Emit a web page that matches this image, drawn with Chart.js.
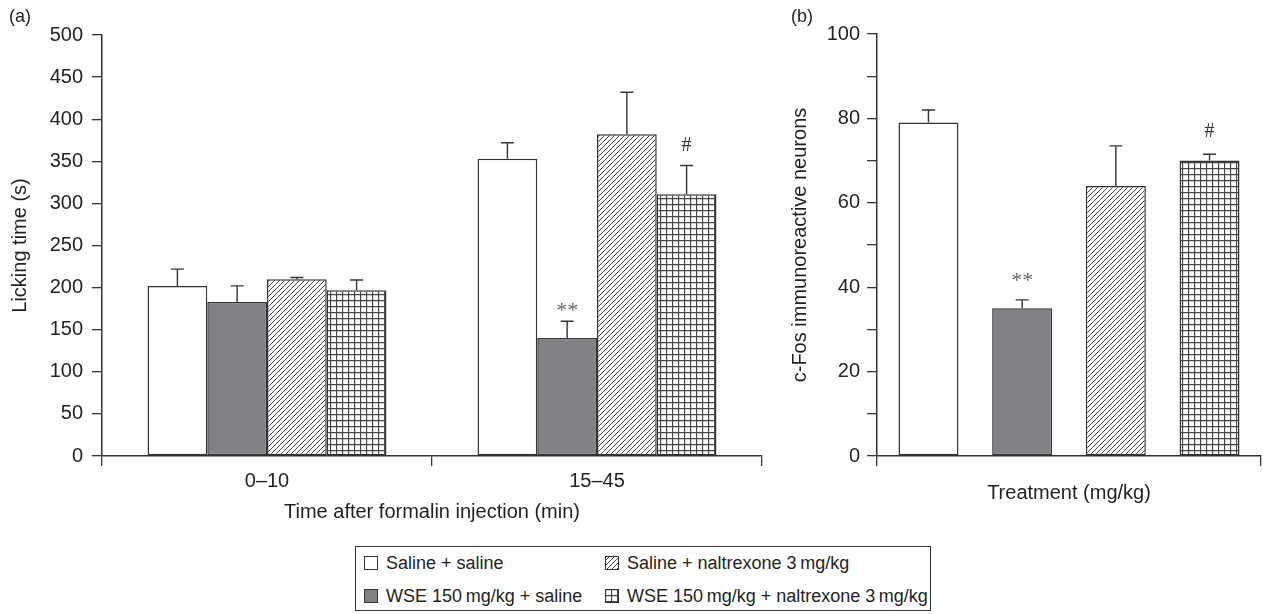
<!DOCTYPE html>
<html>
<head>
<meta charset="utf-8">
<script src="https://cdn.jsdelivr.net/npm/chart.js@4.4.0/dist/chart.umd.min.js"></script>
<style>
  body { margin: 0; background: #fff; }
  #wrap { position: relative; width: 1263px; height: 614px; overflow: hidden; font-family: "Liberation Sans", Arial, sans-serif; color: #231f20; }
  #chartA { position: absolute; left: 0; top: 0; }
  #chartB { position: absolute; left: 780px; top: 0; }
  .panel { position: absolute; top: 6px; font-size: 18px; }
  #legend { position: absolute; left: 355px; top: 546px; width: 576px; height: 65px; border: 1.3px solid #333; box-sizing: border-box; }
  .item { position: absolute; height: 22px; font-size: 18px; line-height: 22px; white-space: nowrap; }
  .item canvas { position: absolute; left: 0; top: 4px; }
  .item span { position: absolute; left: 22px; top: 0; }
</style>
</head>
<body>
<div id="wrap">
  <canvas id="chartA" width="790" height="530"></canvas>
  <canvas id="chartB" width="483" height="530"></canvas>
  <div class="panel" style="left:9px">(a)</div>
  <div class="panel" style="left:791px">(b)</div>
  <div id="legend"></div>
</div>
<script>
// series names
const seriesNames = ['Saline + saline', 'WSE 150\u2009mg/kg + saline', 'Saline + naltrexone 3\u2009mg/kg', 'WSE 150\u2009mg/kg + naltrexone 3\u2009mg/kg'];

// (a) licking time, two time windows
const timeGroups = ['0\u201310', '15\u201345'];
const salineSaline = [202, 353];
const wseSaline = [183, 140];
const salineNal = [210, 382];
const wseNal = [197, 311];
const salineSalineErr = [20, 19];
const wseSalineErr = [19, 20];
const salineNalErr = [2, 50];
const wseNalErr = [12, 34];
const lickingTicks = [0, 50, 100, 150, 200, 250, 300, 350, 400, 450, 500];

// (b) c-Fos neurons, one value per treatment
const cfos = [79, 35, 64, 70];
const cfosErr = [3, 2, 9.5, 1.5];
const cfosTicks = [0, 20, 40, 60, 80, 100];

const ink = '#231f20';
const edge = '#333333';
const darkFill = '#808285';
const font20 = { family: '"Liberation Sans", Arial, sans-serif', size: 20 };

function makePattern(kind) {
  const c = document.createElement('canvas');
  const s = kind === 'hatch' ? 5 : 6;
  c.width = s; c.height = s;
  const g = c.getContext('2d');
  g.fillStyle = '#fff';
  g.fillRect(0, 0, s, s);
  g.strokeStyle = '#444';
  g.lineWidth = kind === 'hatch' ? 1 : 1.3;
  g.beginPath();
  if (kind === 'hatch') {
    g.moveTo(-1, s + 1); g.lineTo(s + 1, -1);
    g.moveTo(-1, 1); g.lineTo(1, -1);
    g.moveTo(s - 1, s + 1); g.lineTo(s + 1, s - 1);
  } else {
    g.moveTo(0.5, 0); g.lineTo(0.5, s);
    g.moveTo(0, 0.5); g.lineTo(s, 0.5);
  }
  g.stroke();
  return g.createPattern(c, 'repeat');
}

const fills = ['#ffffff', darkFill, makePattern('hatch'), makePattern('grid')];

const errorBars = {
  id: 'errorBars',
  afterDatasetsDraw(chart, args, opts) {
    const ctx = chart.ctx;
    const y = chart.scales.y;
    ctx.save();
    ctx.strokeStyle = edge;
    ctx.lineWidth = 1.4;
    opts.errors.forEach((errs, i) => {
      chart.getDatasetMeta(i).data.forEach((bar, j) => {
        const v = chart.data.datasets[i].data[j];
        const top = y.getPixelForValue(v + errs[j]);
        ctx.beginPath();
        ctx.moveTo(bar.x, bar.y);
        ctx.lineTo(bar.x, top);
        ctx.moveTo(bar.x - 6.5, top);
        ctx.lineTo(bar.x + 6.5, top);
        ctx.stroke();
      });
    });
    ctx.textAlign = 'center';
    ctx.textBaseline = 'middle';
    opts.notes.forEach(n => {
      const bar = chart.getDatasetMeta(n.series).data[n.group];
      const v = chart.data.datasets[n.series].data[n.group];
      const top = y.getPixelForValue(v + opts.errors[n.series][n.group]);
      ctx.font = n.text === '#' ? '20px "Liberation Serif", serif' : '22px "Liberation Serif", serif';
      ctx.fillStyle = n.text === '#' ? '#333' : '#666';
      ctx.fillText(n.text, bar.x, top - n.gap);
    });
    ctx.restore();
  }
};

function axisX(titleText, titlePad, height) {
  return {
    grid: { drawOnChartArea: false, drawTicks: true, tickLength: 10, color: edge, lineWidth: 1.3 },
    border: { color: edge, width: 1.5 },
    ticks: { color: ink, font: font20, padding: 3 },
    title: { display: true, text: titleText, color: ink, font: font20, padding: { top: 0, bottom: titlePad } },
    afterFit: s => { s.height = height; }
  };
}

function axisY(titleText, max, step, labels, width, tickPad) {
  return {
    min: 0, max: max,
    grid: { drawOnChartArea: false, drawTicks: true, tickLength: 10, color: edge, lineWidth: 1.3 },
    border: { color: edge, width: 1.5 },
    ticks: { stepSize: step, color: ink, font: font20, padding: tickPad,
      callback: v => labels.includes(v) ? v : '' },
    title: { display: true, text: titleText, color: ink, font: font20, padding: { top: 8, bottom: 0 } },
    afterFit: s => { s.width = width; }
  };
}

const seriesA = [salineSaline, wseSaline, salineNal, wseNal];
new Chart(document.getElementById('chartA'), {
  type: 'bar',
  data: {
    labels: timeGroups,
    datasets: seriesA.map((d, i) => ({
      label: seriesNames[i], data: d, backgroundColor: fills[i],
      borderColor: edge, borderWidth: 1.5, borderSkipped: false,
      categoryPercentage: 0.724, barPercentage: 1.0
    }))
  },
  options: {
    responsive: false, animation: false,
    layout: { padding: { top: 35, right: 28, left: 0, bottom: 0 } },
    plugins: {
      legend: { display: false }, tooltip: { enabled: false },
      errorBars: {
        errors: [salineSalineErr, wseSalineErr, salineNalErr, wseNalErr],
        notes: [{ series: 1, group: 1, text: '**', gap: 10 }, { series: 3, group: 1, text: '#', gap: 20 }]
      }
    },
    scales: {
      x: axisX('Time after formalin injection (min)', 6, 74),
      y: axisY('Licking time (s)', 500, 25, lickingTicks, 102, 9)
    }
  },
  plugins: [errorBars]
});

new Chart(document.getElementById('chartB'), {
  type: 'bar',
  data: {
    labels: [''],
    datasets: cfos.map((v, i) => ({
      label: seriesNames[i], data: [v], backgroundColor: fills[i],
      borderColor: edge, borderWidth: 1.5, borderSkipped: false,
      categoryPercentage: 0.976, barPercentage: 0.64
    }))
  },
  options: {
    responsive: false, animation: false,
    layout: { padding: { top: 34, right: 2, left: 0, bottom: 0 } },
    plugins: {
      legend: { display: false }, tooltip: { enabled: false },
      errorBars: {
        errors: cfosErr.map(e => [e]),
        notes: [{ series: 1, group: 0, text: '**', gap: 19 }, { series: 3, group: 0, text: '#', gap: 23 }]
      }
    },
    scales: {
      x: axisX('Treatment (mg/kg)', 25, 74),
      y: axisY('c-Fos immunoreactive neurons', 100, 10, cfosTicks, 97, 7)
    }
  },
  plugins: [errorBars]
});

// legend below both panels: column-major like the figure
const legendEl = document.getElementById('legend');
const legendSlots = [[8, 5], [8, 38], [249, 5], [249, 38]];
seriesNames.forEach((name, i) => {
  const item = document.createElement('div');
  item.className = 'item';
  item.style.left = legendSlots[i][0] + 'px';
  item.style.top = legendSlots[i][1] + 'px';
  const sw = document.createElement('canvas');
  sw.width = 14; sw.height = 14;
  const g = sw.getContext('2d');
  g.fillStyle = fills[i];
  g.fillRect(0, 0, 14, 14);
  g.strokeStyle = edge;
  g.lineWidth = 1;
  g.strokeRect(0.5, 0.5, 13, 13);
  const tx = document.createElement('span');
  tx.textContent = name;
  item.appendChild(sw);
  item.appendChild(tx);
  legendEl.appendChild(item);
});
</script>
</body>
</html>
